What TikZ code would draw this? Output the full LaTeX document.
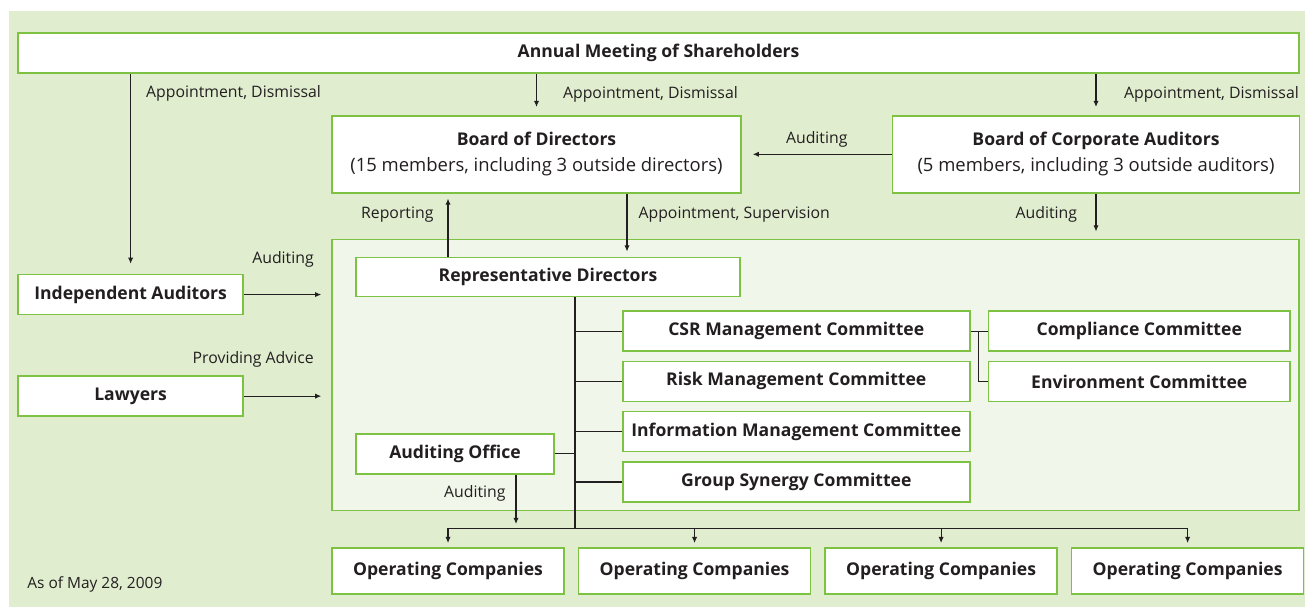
\documentclass[tikz,border=0pt]{standalone}
\usepackage{fontspec}
\setmainfont{Open Sans}
\usetikzlibrary{arrows.meta,positioning}

\definecolor{bggreen}{RGB}{224,237,207}
\definecolor{panelgreen}{RGB}{240,246,234}
\definecolor{linegreen}{RGB}{125,194,66}
\definecolor{ink}{RGB}{35,31,32}

\pgfdeclarelayer{background}
\pgfsetlayers{background,main}

\newcommand\boxfont{\fontsize{10}{14.6}\selectfont\bfseries}
\newcommand\memberfont{\fontsize{10.5}{14.6}\selectfont\mdseries}
\newcommand\lblfont{\fontsize{9}{11}\selectfont}
\newcommand\notefont{\fontsize{8.8}{10}\selectfont}

\tikzstyle{box} = [draw=linegreen, line width=0.9pt, fill=white, text=ink,
    font=\boxfont, inner sep=0pt, minimum height=0.8cm, align=center]
\tikzstyle{board} = [box, minimum width=8.18cm, minimum height=1.54cm]
\tikzstyle{committee} = [box, minimum width=6.94cm]
\tikzstyle{subcom} = [box, minimum width=6.04cm]
\tikzstyle{opco} = [box, minimum width=4.64cm, minimum height=0.92cm]
\tikzstyle{panel} = [draw=linegreen, line width=0.9pt, fill=panelgreen,
    inner sep=0pt, minimum width=19.34cm, minimum height=5.42cm]
\tikzstyle{lbl} = [text=ink, font=\lblfont, inner sep=0pt]
\tikzstyle{arr} = [draw=ink, line width=0.65pt, -{Latex[length=3.5pt,width=3pt]}]
\tikzstyle{link} = [draw=ink, line width=0.65pt]
\def\comdist{8.7}

\begin{document}
\begin{tikzpicture}[x=0.02cm, y=-0.02cm]
    \useasboundingbox (0,0) rectangle (1305,607);

    \node (annual) [box, minimum width=25.62cm] at (658.5,53) {Annual Meeting of Shareholders};
    \path (annual.south)+(-122,80.5) node (bod) [board]
        {Board of Directors\\{\memberfont (15 members, including 3 outside directors)}};
    \path (bod.east)+(150,0) node (boca) [board, anchor=west, minimum width=8.14cm]
        {Board of Corporate Auditors\\{\memberfont (5 members, including 3 outside auditors)}};

    % the executive side sits on a lighter panel
    \path (bod.south west)+(0,45) node (panel) [panel, anchor=north west] {};
    \path (panel.north west)+(24,18) node (rep) [box, anchor=north west,
        minimum width=7.68cm, minimum height=0.78cm] {Representative Directors};
    \path (rep.south)+(27,0) coordinate (trunk);

    \path (trunk)+(47,34) node (csr) [committee, anchor=west] {CSR Management Committee};
    \path (csr.south)+(0,\comdist) node (risk) [committee, anchor=north] {Risk Management Committee};
    \path (risk.south)+(0,\comdist) node (info) [committee, anchor=north] {Information Management Committee};
    \path (info.south)+(0,\comdist) node (synergy) [committee, anchor=north] {Group Synergy Committee};
    \path (csr.east)+(17,0) node (compliance) [subcom, anchor=west] {Compliance Committee};
    \path (compliance.south)+(0,\comdist) node (environment) [subcom, anchor=north] {Environment Committee};
    \path (rep.south west)+(0,136) node (audoffice) [box, anchor=north west,
        minimum width=3.96cm] {Auditing Office};

    \path (annual.south west)+(0,200) node (indep) [box, anchor=north west,
        minimum width=4.5cm] {Independent Auditors};
    \path (indep.south west)+(0,60) node (lawyers) [box, anchor=north west,
        minimum width=4.5cm] {Lawyers};

    \path (panel.south west)+(0,36) node (opco1) [opco, anchor=north west] {Operating Companies};
    \foreach \i/\j in {1/2,2/3,3/4}
        \path (opco\i.east)+(13,0) node (opco\j) [opco, anchor=west] {Operating Companies};

    \node (asof) [lbl, font=\notefont, anchor=west] at (27,584) {As of May 28, 2009};

    % appointments by the shareholders
    \path [arr, shorten >=0.2cm] (indep.north |- annual.south)
        -- node [lbl, pos=0.1, anchor=west, xshift=0.3cm] {Appointment, Dismissal} (indep.north);
    \path [arr, shorten >=0.16cm] (bod.north |- annual.south)
        -- node [lbl, anchor=west, xshift=0.52cm] {Appointment, Dismissal} (bod.north);
    \path [arr, shorten >=0.16cm] (boca.north |- annual.south)
        -- node [lbl, anchor=west, xshift=0.55cm] {Appointment, Dismissal} (boca.north);

    \path [arr, shorten >=0.22cm] (boca.west) -- node [lbl, above=0.12cm] {Auditing} (bod.east);

    \path (rep.north)+(-100,0) coordinate (rpt);
    \path [arr, shorten >=0.1cm] (rpt)
        -- node [lbl, pos=0.67, anchor=east, xshift=-0.28cm] {Reporting} (rpt |- bod.south);
    \path (bod.south)+(90.5,0) coordinate (sup);
    \path [arr, shorten >=0.1cm] (sup)
        -- node [lbl, pos=0.33, anchor=west, xshift=0.22cm] {Appointment, Supervision} (sup |- rep.north);
    \path [arr, shorten >=0.14cm] (boca.south)
        -- node [lbl, pos=0.47, anchor=east, xshift=-0.37cm] {Auditing} (boca.south |- panel.north);

    % outside parties
    \path [arr, shorten >=0.2cm] (indep.east)
        -- node [lbl, pos=1, anchor=east, xshift=-0.34cm, yshift=0.7cm] {Auditing} (indep.east -| panel.west);
    \path [arr, shorten >=0.2cm] (lawyers.east)
        -- node [lbl, pos=1, anchor=east, xshift=-0.34cm, yshift=0.74cm] {Providing Advice} (lawyers.east -| panel.west);

    % committees hang off the representative directors
    \path (trunk |- panel.south)+(0,17) coordinate (bus);
    \path [link] (trunk) -- (bus);
    \foreach \c in {csr,risk,info,synergy}
        \path [link] (trunk |- \c.west) -- (\c.west);
    \path [link] (audoffice.east) -- (audoffice.east -| trunk);
    \path [link] (csr.east) -- (compliance.west);
    \path (csr.east)+(8,0) coordinate (fork);
    \path [link] (fork) |- (environment.west);

    \path (audoffice.south)+(61,0) coordinate (aud);
    \path [arr, shorten >=0.08cm] (aud)
        -- node [lbl, pos=0.35, anchor=east, xshift=-0.2cm] {Auditing} (aud |- bus);

    % down to the operating companies
    \path [link] (bus -| opco1.north) -- (bus -| opco4.north);
    \foreach \i in {1,...,4}
        \path [arr, shorten >=0.08cm] (bus -| opco\i.north) -- (opco\i.north);

    \begin{pgfonlayer}{background}
        \path [fill=bggreen] (9,11) rectangle (1305,607);
    \end{pgfonlayer}
\end{tikzpicture}
\end{document}
